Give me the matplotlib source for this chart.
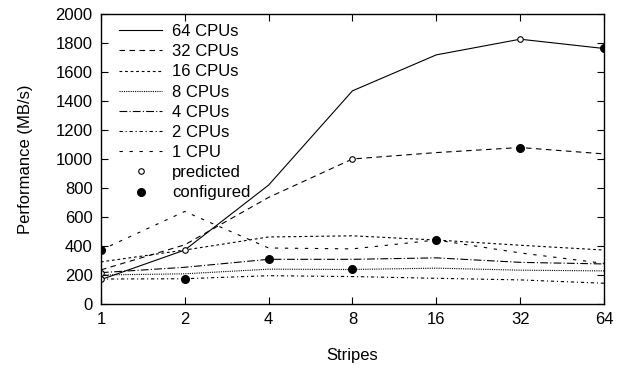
import matplotlib.pyplot as plt

plt.rcParams['font.family'] = ['Liberation Sans', 'DejaVu Sans']
plt.rcParams['font.size'] = 12

stripes = [1, 2, 4, 8, 16, 32, 64]

cpu64 = [168, 372, 820, 1470, 1718, 1826, 1762]
cpu32 = [235, 408, 735, 1000, 1044, 1079, 1035]
cpu16 = [290, 372, 462, 470, 441, 405, 372]
cpu8 = [200, 208, 240, 238, 247, 233, 228]
cpu4 = [216, 253, 308, 308, 318, 287, 276]
cpu2 = [172, 174, 195, 189, 177, 166, 143]
cpu1 = [372, 638, 386, 380, 441, 352, 280]

series = [
    ("64 CPUs", cpu64, '-'),
    ("32 CPUs", cpu32, (0, (5, 4))),
    ("16 CPUs", cpu16, (0, (2.5, 2.5))),
    ("8 CPUs", cpu8, (0, (1, 1))),
    ("4 CPUs", cpu4, (0, (7, 2, 1, 2))),
    ("2 CPUs", cpu2, (0, (3, 2.5, 1, 2.5))),
    ("1 CPU", cpu1, (0, (3, 6))),
]

# predicted / configured points
pred_x = [1, 1, 2, 8, 32]
pred_y = [172, 216, 372, 1000, 1826]
conf_x = [1, 2, 4, 8, 16, 32, 64]
conf_y = [372, 174, 308, 238, 441, 1079, 1762]

fig = plt.figure(figsize=(6.23, 3.68), dpi=100)
ax = fig.add_axes([0.162, 0.174, 0.8075, 0.788])

for label, vals, ls in series:
    ax.plot(stripes, vals, color='black', linestyle=ls, linewidth=0.8, label=label)

ax.plot(pred_x, pred_y, 'o', markersize=4, markerfacecolor='white',
        markeredgecolor='black', markeredgewidth=0.8, label='predicted')
ax.plot(conf_x, conf_y, 'o', markersize=5.5, color='black', label='configured')

ax.set_xscale('log', base=2)
ax.set_xlim(1, 64)
ax.set_ylim(0, 2000)
ax.set_xticks(stripes)
ax.set_xticklabels([str(s) for s in stripes])
ax.minorticks_off()
ax.set_yticks(range(0, 2001, 200))
ax.tick_params(direction='in', top=True, right=True, length=5, width=0.8, pad=6)
ax.set_xlabel("Stripes", labelpad=15)
ax.set_ylabel("Performance (MB/s)", labelpad=16)
for s in ax.spines.values():
    s.set_linewidth(1)

ax.legend(loc='upper left', bbox_to_anchor=(0.036, 0.965), frameon=False,
          handlelength=2.58, handletextpad=0.6, labelspacing=0.31,
          borderaxespad=0, borderpad=0, fontsize=12)

plt.savefig("out.png", dpi=100)
